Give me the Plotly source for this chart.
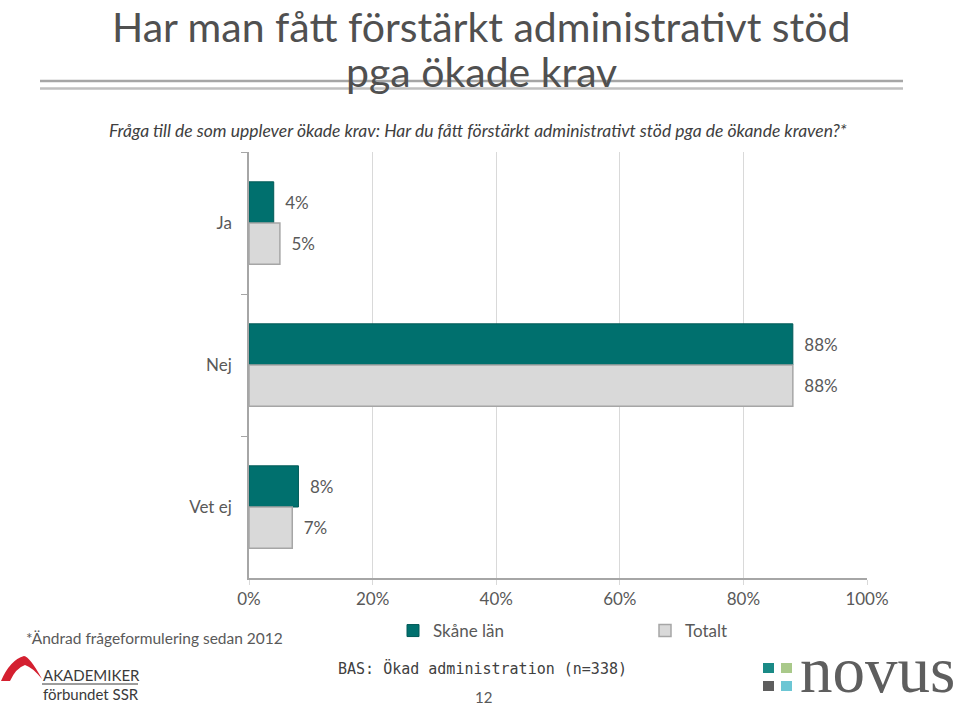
import plotly.graph_objects as go

categories = ["Ja", "Nej", "Vet ej"]
skane = [4, 88, 8]
totalt = [5, 88, 7]
skane_labels = ["4%", "88%", "8%"]
totalt_labels = ["5%", "88%", "7%"]
x_ticks = [0, 20, 40, 60, 80, 100]
x_tick_labels = ["0%", "20%", "40%", "60%", "80%", "100%"]

W, H = 960, 706
def py(p):
    return 1 - p / H
def px(p):
    return p / W

TEAL = "#00706e"
TXT = "#595959"
PAD = "\u2002"

fig = go.Figure()
fig.add_trace(go.Bar(
    y=categories, x=skane, orientation="h", name="Skåne län",
    marker=dict(color=TEAL, line=dict(color="#005a58", width=1)),
    text=[PAD + t for t in skane_labels], textposition="outside", cliponaxis=False,
    textfont=dict(family="Lato", size=17, color=TXT),
))
fig.add_trace(go.Bar(
    y=categories, x=totalt, orientation="h", name="Totalt",
    marker=dict(color="#d9d9d9", line=dict(color="#a6a6a6", width=1.5)),
    text=[PAD + t for t in totalt_labels], textposition="outside", cliponaxis=False,
    textfont=dict(family="Lato", size=17, color=TXT),
))

fig.update_layout(
    width=W, height=H, margin=dict(l=0, r=0, t=0, b=0, autoexpand=False),
    paper_bgcolor="white", plot_bgcolor="white",
    barmode="group", bargap=0.42, bargroupgap=0,
    font=dict(family="Lato", color=TXT),
    showlegend=True,
    legend=dict(orientation="h", xref="container", yref="container",
                x=px(393), y=py(631), xanchor="left", yanchor="middle",
                entrywidth=207, font=dict(family="Lato", size=17, color=TXT),
                itemclick=False, bgcolor="rgba(0,0,0,0)"),
    xaxis=dict(domain=[px(249), px(867)], range=[0, 100], tickvals=x_ticks,
               ticktext=x_tick_labels, showgrid=True, gridcolor="#d9d9d9", gridwidth=1,
               showline=True, linecolor="#a6a6a6", linewidth=1.5,
               ticks="outside", ticklen=5, tickcolor="#d9d9d9", automargin=False,
               tickfont=dict(family="Lato", size=17, color=TXT), zeroline=False,
               fixedrange=True),
    yaxis=dict(domain=[py(578), py(152)], autorange="reversed", showgrid=False,
               showline=True, linecolor="#a6a6a6", linewidth=1.5, automargin=False,
               ticks="outside", ticklen=6, tickcolor="#a6a6a6", tickson="boundaries",
               tickfont=dict(family="Lato", size=17, color=TXT), ticklabelstandoff=12,
               fixedrange=True),
)

ann = []
ann.append(dict(text="Har man fått förstärkt administrativt stöd", x=px(481), y=py(0),
                yanchor="top", font=dict(family="Lato", size=41, color="#505050")))
ann.append(dict(text="pga ökade krav", x=px(481), y=py(45), yanchor="top",
                font=dict(family="Lato", size=41, color="#505050")))
ann.append(dict(text="<i>Fråga till de som upplever ökade krav: Har du fått förstärkt administrativt stöd pga de ökande kraven?*</i>",
                x=px(478), y=py(130), font=dict(family="Lato", size=17.5, color="#404040")))
ann.append(dict(text="*Ändrad frågeformulering sedan 2012", x=px(24), y=py(638), xanchor="left",
                font=dict(family="Lato", size=15.5, color=TXT)))
ann.append(dict(text="BAS: Ökad administration (n=338)", x=px(482), y=py(668),
                font=dict(family="DejaVu Sans Mono", size=15, color="#404040")))
ann.append(dict(text="12", x=px(483), y=py(697), font=dict(family="Lato", size=15, color=TXT)))
ann.append(dict(text="AKADEMIKER", x=px(41), y=py(675), xanchor="left",
                font=dict(family="Lato", size=15, color="#3a3a3a")))
ann.append(dict(text="förbundet SSR", x=px(41), y=py(694), xanchor="left",
                font=dict(family="Lato", size=15, color="#3a3a3a")))
ann.append(dict(text="novus", x=px(877), y=py(670),
                font=dict(family="Liberation Serif", size=65, color="#5e5e5e")))
for a in ann:
    a.update(xref="paper", yref="paper", showarrow=False)
    a.setdefault("xanchor", "center")
    a.setdefault("yanchor", "middle")
fig.update_layout(annotations=ann)

def P(x, y):
    return f"{px(x):.5f},{py(y):.5f}"

shapes = [
    dict(type="line", x0=px(40), x1=px(903), y0=py(81), y1=py(81), line=dict(color="#a6a6a6", width=2.5)),
    dict(type="line", x0=px(40), x1=px(903), y0=py(88.5), y1=py(88.5), line=dict(color="#bfbfbf", width=2.5)),
    dict(type="line", x0=px(42), x1=px(138), y0=py(684), y1=py(684), line=dict(color="#3a3a3a", width=1)),
    dict(type="path",
         path=f"M {P(1,681)} Q {P(10,660)} {P(24,656)} Q {P(30,657)} {P(42,679)} Q {P(32,667)} {P(25,665)} Q {P(16,668)} {P(10,681)} Z",
         fillcolor="#d42030", line=dict(width=0)),
    dict(type="rect", x0=px(763), x1=px(774), y0=py(673), y1=py(663), fillcolor="#1a8a86", line=dict(width=0)),
    dict(type="rect", x0=px(781), x1=px(792), y0=py(673), y1=py(663), fillcolor="#a9c98a", line=dict(width=0)),
    dict(type="rect", x0=px(763), x1=px(774), y0=py(691), y1=py(681), fillcolor="#5e5e5e", line=dict(width=0)),
    dict(type="rect", x0=px(781), x1=px(792), y0=py(691), y1=py(681), fillcolor="#6cc6d4", line=dict(width=0)),
]
for s in shapes:
    s.update(xref="paper", yref="paper")
fig.update_layout(shapes=shapes)

fig.write_html("out.html")
